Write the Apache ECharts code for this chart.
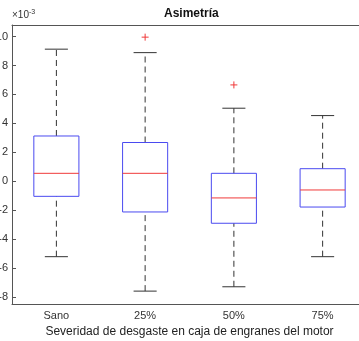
<!DOCTYPE html>
<html>
<head>
<meta charset="utf-8">
<script src="https://cdn.jsdelivr.net/npm/echarts@6/dist/echarts.min.js"></script>
<style>
  html, body { margin: 0; padding: 0; background: #fff; }
  #charts { width: 359px; height: 341px; }
</style>
</head>
<body>
<div id="charts"></div>
<script>
// datos (x 10^-3)
const categories = ['Sano', '25%', '50%', '75%'];
const whiskerLow = [-5.21, -7.59, -7.29, -5.21];
const q1 = [-1.04, -2.12, -2.90, -1.78];
const median = [0.55, 0.55, -1.15, -0.60];
const q3 = [3.13, 2.68, 0.55, 0.87];
const whiskerHigh = [9.13, 8.89, 5.05, 4.54];
const outlierCat = ['25%', '50%'];
const outlierVal = [9.96, 6.66];
const yTicks = [-8, -6, -4, -2, 0, 2, 4, 6, 8, 10];

const font = 'Liberation Sans, Arial, sans-serif';
const axisColor = '#555';

const boxData = categories.map(function (c, i) {
    return [i, whiskerLow[i], q1[i], median[i], q3[i], whiskerHigh[i]];
});
const outData = outlierCat.map(function (c, i) {
    return [categories.indexOf(c), outlierVal[i]];
});

function renderBox(params, api) {
    const idx = api.value(0);
    const band = api.size([1, 0])[0];
    const half = band * 0.254;
    const cap = band * 0.13;
    const pLow = api.coord([idx, api.value(1)]);
    const pQ1 = api.coord([idx, api.value(2)]);
    const pMed = api.coord([idx, api.value(3)]);
    const pQ3 = api.coord([idx, api.value(4)]);
    const pHigh = api.coord([idx, api.value(5)]);
    const x = pMed[0];
    const dash = { stroke: '#333', lineWidth: 1, lineDash: [6, 4] };
    const solid = { stroke: '#333', lineWidth: 1 };
    return {
        type: 'group',
        children: [
            { type: 'line', shape: { x1: x, y1: pQ3[1], x2: x, y2: pHigh[1] }, style: dash },
            { type: 'line', shape: { x1: x, y1: pLow[1], x2: x, y2: pQ1[1] }, style: dash },
            { type: 'line', shape: { x1: x - cap, y1: pHigh[1], x2: x + cap, y2: pHigh[1] }, style: solid },
            { type: 'line', shape: { x1: x - cap, y1: pLow[1], x2: x + cap, y2: pLow[1] }, style: solid },
            { type: 'rect', shape: { x: x - half, y: pQ3[1], width: half * 2, height: pQ1[1] - pQ3[1] },
              style: { fill: 'none', stroke: '#4a4af0', lineWidth: 1 } },
            { type: 'line', shape: { x1: x - half, y1: pMed[1], x2: x + half, y2: pMed[1] },
              style: { stroke: '#f03a3a', lineWidth: 1 } }
        ]
    };
}

function renderPlus(params, api) {
    const p = api.coord([api.value(0), api.value(1)]);
    const s = 3.5;
    const st = { stroke: '#f03a3a', lineWidth: 1 };
    return {
        type: 'group',
        children: [
            { type: 'line', shape: { x1: p[0] - s, y1: p[1], x2: p[0] + s, y2: p[1] }, style: st },
            { type: 'line', shape: { x1: p[0], y1: p[1] - s, x2: p[0], y2: p[1] + s }, style: st }
        ]
    };
}

const chart = echarts.init(document.getElementById('charts'));
chart.setOption({
    animation: false,
    textStyle: { fontFamily: font },
    title: {
        text: 'Asimetría',
        left: 164,
        top: 8,
        padding: 0,
        textStyle: { fontFamily: font, fontSize: 12, fontWeight: 'bold', color: '#111' }
    },
    grid: {
        left: 12, right: -8, top: 25, bottom: 37,
        outerBoundsMode: 'none',
        containLabel: false,
        show: false
    },
    xAxis: [{
        type: 'category',
        position: 'bottom',
        data: categories,
        boundaryGap: true,
        axisLine: { onZero: false, lineStyle: { color: axisColor } },
        axisTick: { inside: true, alignWithLabel: true, length: 4, lineStyle: { color: axisColor } },
        axisLabel: { color: '#333', fontSize: 11, margin: 6, fontFamily: font },
        name: 'Severidad de desgaste en caja de engranes del motor',
        nameLocation: 'middle',
        nameGap: 21,
        nameTextStyle: { color: '#222', fontSize: 12, fontFamily: font }
    }, {
        type: 'category',
        position: 'top',
        data: categories,
        axisLine: { onZero: false, lineStyle: { color: axisColor } },
        axisTick: { inside: true, alignWithLabel: true, length: 4, lineStyle: { color: axisColor } },
        axisLabel: { show: false }
    }],
    yAxis: {
        type: 'value',
        min: -8.48,
        max: 10.8,
        splitLine: { show: false },
        axisLine: { show: true, onZero: false, lineStyle: { color: axisColor } },
        axisTick: { show: true, inside: true, length: 4, customValues: yTicks, lineStyle: { color: axisColor } },
        axisLabel: { color: '#333', fontSize: 11, margin: 4, customValues: yTicks, fontFamily: font },
        name: '{a|×10}{b|-3}',
        nameLocation: 'end',
        nameGap: 3,
        nameTextStyle: {
            align: 'left',
            padding: [0, 0, 0, 0],
            rich: {
                a: { fontSize: 10, color: '#333', fontFamily: font },
                b: { fontSize: 7, color: '#333', fontFamily: font, verticalAlign: 'top', padding: [0, 0, 6, 0] }
            }
        }
    },
    series: [{
        type: 'custom',
        renderItem: renderBox,
        encode: { x: 0, y: [1, 2, 3, 4, 5] },
        data: boxData,
        z: 3
    }, {
        type: 'custom',
        renderItem: renderPlus,
        encode: { x: 0, y: 1 },
        data: outData,
        z: 4
    }]
});
</script>
</body>
</html>
